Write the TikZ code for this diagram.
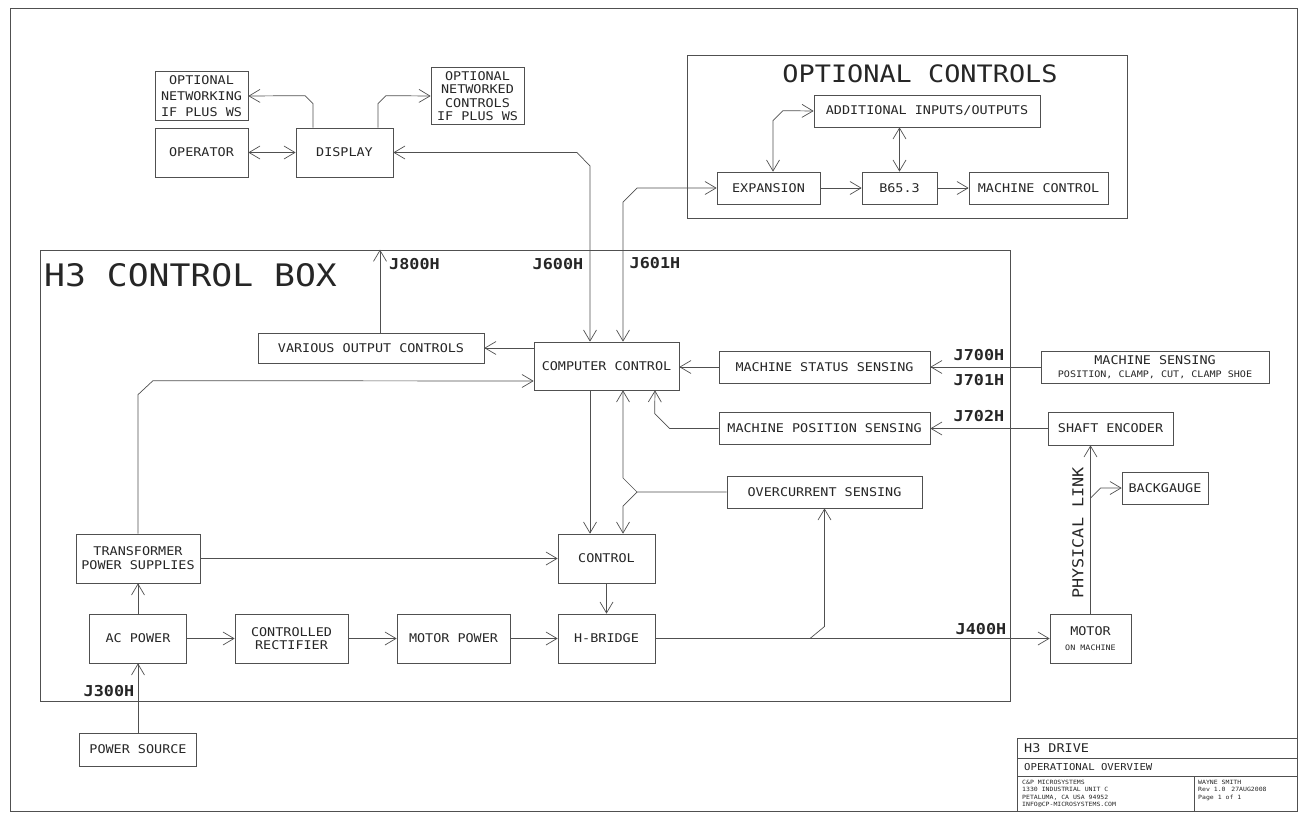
\documentclass[tikz,border=0pt]{standalone}
\usepackage{fontspec}
\usetikzlibrary{arrows.meta,calc}
\newfontfamily\cadfont[FakeStretch=1.12]{DejaVu Sans Mono}
\definecolor{inkGray}{HTML}{505050}
\definecolor{textBlack}{HTML}{262626}
\tikzset{
    unit/.style={draw=inkGray,line width=0.7pt,inner sep=2pt,align=center,
        text=textBlack,font=\cadfont\fontsize{12}{14}\selectfont},
    container/.style={draw=inkGray,line width=0.7pt,inner sep=0pt},
    jlabel/.style={inner sep=0pt,text=textBlack,
        font=\cadfont\bfseries\fontsize{15}{15}\selectfont},
    bigtitle/.style={inner sep=0pt,text=textBlack},
    smalltext/.style={inner sep=0pt,align=left,text=textBlack},
    link/.style={-{Straight Barb[length=11pt,width=13pt]},draw=inkGray,line width=0.7pt},
    duplex/.style={link,{Straight Barb[length=11pt,width=13pt]}-{Straight Barb[length=11pt,width=13pt]}}
}

\begin{document}
\begin{tikzpicture}[x=1pt,y=-1pt]
    \useasboundingbox (0,0) rectangle (1300,814);
    \draw[container] (10,8) rectangle (1297,811);

    % 显示与操作员
    \node[unit,minimum width=93pt,minimum height=49pt,
        font=\cadfont\fontsize{12}{16}\selectfont] (optnet) at (201.5,96)
        {OPTIONAL\\NETWORKING\\IF PLUS WS};
    \node[unit,minimum width=93pt,minimum height=49pt] (oper) at (201.5,152.5) {OPERATOR};
    \node[unit,minimum width=97pt,minimum height=49pt] (disp) at (344.5,152.5) {DISPLAY};
    \node[unit,minimum width=93pt,minimum height=57pt,
        font=\cadfont\fontsize{12}{13.3}\selectfont] (optctl) at (477.5,96)
        {OPTIONAL\\NETWORKED\\CONTROLS\\IF PLUS WS};

    \draw[link] ([xshift=-31.5]disp.north) -- ++(0,-24) -- ++(-8,-8) -- (optnet.east);
    \draw[link] ([xshift=33.5]disp.north) -- ++(0,-24) -- ++(8,-8) -- (optctl.west);
    \draw[duplex] (oper.east) -- (disp.west);

    % 可选控制
    \node[container,minimum width=440pt,minimum height=163pt] (optbox) at (907,136.5) {};
    \node[bigtitle,font=\cadfont\fontsize{24}{24}\selectfont] (opttitle) at (920,74)
        {OPTIONAL CONTROLS};
    \node[unit,minimum width=226pt,minimum height=32pt] (aio) at (927,111)
        {ADDITIONAL INPUTS/OUTPUTS};
    \node[unit,minimum width=103pt,minimum height=32pt] (expn) at (768.5,188) {EXPANSION};
    \node[unit,minimum width=75pt,minimum height=32pt] (b653) at (899.5,188) {B65.3};
    \node[unit,minimum width=139pt,minimum height=32pt] (mctl) at (1038.5,188) {MACHINE CONTROL};

    \draw[duplex] ([xshift=4.5]expn.north) -- ++(0,-51) -- ++(10,-10) -- (aio.west);
    \draw[duplex] (b653.north) -- (b653.north |- aio.south);
    \draw[link] (expn.east) -- (b653.west);
    \draw[link] (b653.east) -- (mctl.west);

    % H3 控制箱
    \node[container,minimum width=970pt,minimum height=451pt] (h3box) at (525,475.5) {};
    \node[bigtitle,anchor=west,font=\cadfont\fontsize{31}{31}\selectfont] (h3title) at (44,275)
        {H3 CONTROL BOX};
    \node[jlabel,anchor=west] (j800) at (389,264) {J800H};
    \node[jlabel] (j600) at (558,264) {J600H};
    \node[jlabel] (j601) at (655,263) {J601H};

    \node[unit,minimum width=226pt,minimum height=30pt] (voc) at (371,348) {VARIOUS OUTPUT CONTROLS};
    \node[unit,minimum width=145pt,minimum height=48pt] (cc) at (606.5,366) {COMPUTER CONTROL};
    \node[unit,minimum width=211pt,minimum height=32pt] (mss) at (824.5,367) {MACHINE STATUS SENSING};
    \node[unit,minimum width=211pt,minimum height=32pt] (mps) at (824.5,428.5) {MACHINE POSITION SENSING};
    \node[unit,minimum width=195pt,minimum height=32pt] (ovc) at (824.5,492) {OVERCURRENT SENSING};
    \node[unit,minimum width=97pt,minimum height=49pt] (ctrl) at (606.5,558.5) {CONTROL};
    \node[unit,minimum width=124pt,minimum height=49pt] (tps) at (138,558.5)
        {TRANSFORMER\\POWER SUPPLIES};
    \node[unit,minimum width=97pt,minimum height=49pt] (acp) at (138,638.5) {AC POWER};
    \node[unit,minimum width=113pt,minimum height=49pt,
        font=\cadfont\fontsize{12}{12.5}\selectfont] (crect) at (291.5,638.5)
        {CONTROLLED\\RECTIFIER};
    \node[unit,minimum width=113pt,minimum height=49pt] (mpow) at (453.5,638.5) {MOTOR POWER};
    \node[unit,minimum width=97pt,minimum height=49pt] (hbr) at (606.5,638.5) {H-BRIDGE};
    \node[jlabel] (j300) at (109,691) {J300H};
    \node[unit,minimum width=117pt,minimum height=33pt] (psrc) at (138,749.5) {POWER SOURCE};

    % 机器侧
    \node[unit,minimum width=228pt,minimum height=32pt,inner sep=0pt,
        font=\cadfont\fontsize{12}{13}\selectfont] (msens) at (1155,367)
        {MACHINE SENSING\\{\fontsize{9}{10}\selectfont POSITION, CLAMP, CUT, CLAMP SHOE}};
    \node[unit,minimum width=125pt,minimum height=33pt] (shaft) at (1110.5,428.5) {SHAFT ENCODER};
    \node[unit,minimum width=86pt,minimum height=32pt] (backg) at (1165,488) {BACKGAUGE};
    \node[unit,minimum width=81pt,minimum height=49pt,
        font=\cadfont\fontsize{12}{15}\selectfont] (motor) at (1090.5,638.5)
        {MOTOR\\{\fontsize{7.5}{9}\selectfont ON MACHINE}};
    \node[jlabel] (j700) at (979,355) {J700H};
    \node[jlabel] (j701) at (979,380) {J701H};
    \node[jlabel] (j702) at (979,416) {J702H};
    \node[jlabel] (j400) at (981,629) {J400H};
    \node[bigtitle,rotate=90,font=\cadfont\fontsize{15}{15}\selectfont] (plink) at (1078,533)
        {PHYSICAL LINK};

    % 连线
    \draw[duplex] (disp.east) -- (577,152.5) -- (590,166) -- ([xshift=-16.5]cc.north);
    \draw[duplex] ([xshift=16.5]cc.north) -- (623,202) -- (637,188) -- (expn.west);
    \draw[link] ([xshift=9]voc.north) -- ([xshift=9]voc.north |- h3box.north);
    \draw[link] (voc.east -| cc.west) -- (voc.east);
    \draw[link] (mss.west) -- (mss.west -| cc.east);
    \draw[link] (msens.west) -- (mss.east);
    \draw[link] (shaft.west) -- (mps.east);
    \draw[link] (mps.west) -- ++(-49,0) -- ++(-15,-15) -- ([xshift=48.5]cc.south);
    \draw[link] ([xshift=-16.5]cc.south) -- ([xshift=-16.5]ctrl.north);
    \coordinate (fork) at (637,492);
    \draw[link] (ovc.west) -- (fork) -- ++(-14,-14) -- ([xshift=16.5]cc.south);
    \draw[link] (fork) -- ++(-14,14) -- ([xshift=16.5]ctrl.north);
    \draw[link] (tps.north) -- ++(0,-139) -- ++(15,-14) -- (cc.west |- 0,381);
    \draw[link] (tps.east) -- (ctrl.west);
    \draw[link] (ctrl.south) -- (hbr.north);
    \draw[link] (psrc.north) -- (acp.south);
    \draw[link] (acp.north) -- (tps.south);
    \draw[link] (acp.east) -- (crect.west);
    \draw[link] (crect.east) -- (mpow.west);
    \draw[link] (mpow.east) -- (hbr.west);
    \draw[link] (hbr.east) -- (motor.west);
    \coordinate (tap) at (810,638.5);
    \draw[link] (tap) -- ++(14.5,-12) -- (ovc.south);
    \draw[link] (motor.north) -- (motor.north |- shaft.south);
    \coordinate (gtap) at (1090.5,498);
    \draw[link] (gtap) -- ++(10,-10) -- (backg.west);

    % 标题栏
    \draw[container] (1017,738) rectangle (1297,811);
    \draw[container] (1017,758) -- (1297,758);
    \draw[container] (1017,776) -- (1297,776);
    \draw[container] (1194,776) -- (1194,811);
    \node[smalltext,anchor=west,font=\cadfont\fontsize{12}{12}\selectfont] (tdrive) at (1024,748)
        {H3 DRIVE};
    \node[smalltext,anchor=west,font=\cadfont\fontsize{9.5}{9.5}\selectfont] (tover) at (1024,767)
        {OPERATIONAL OVERVIEW};
    \node[smalltext,anchor=north west,font=\cadfont\fontsize{5.8}{7.4}\selectfont] (taddr) at (1022,780)
        {C\&P MICROSYSTEMS\\1330 INDUSTRIAL UNIT C\\PETALUMA, CA USA 94952\\INFO@CP-MICROSYSTEMS.COM};
    \node[smalltext,anchor=north west,font=\cadfont\fontsize{5.8}{7.4}\selectfont] (tauth) at (1198,780)
        {WAYNE SMITH\\Rev 1.0\quad 27AUG2008\\Page 1 of 1};
\end{tikzpicture}
\end{document}
